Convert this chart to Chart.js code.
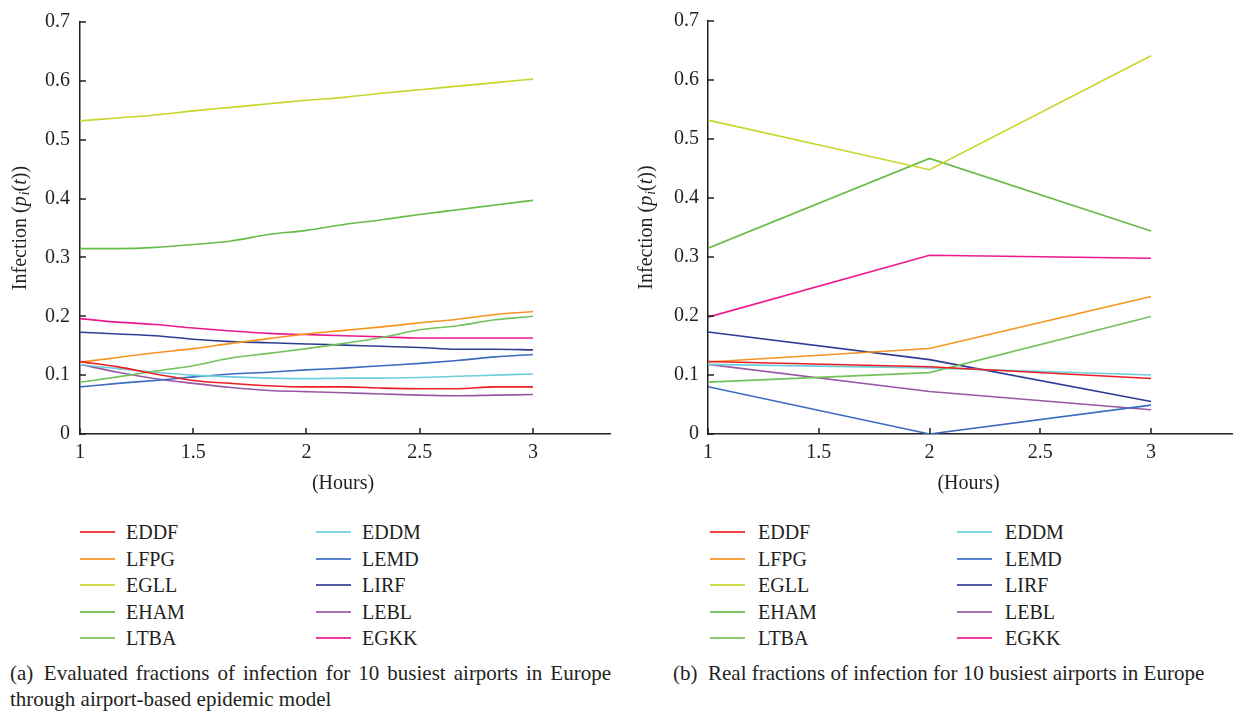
<!DOCTYPE html>
<html>
<head>
<meta charset="utf-8">
<script src="https://cdn.jsdelivr.net/npm/chart.js@4/dist/chart.umd.min.js"></script>
<style>
    body { margin: 0; background: #fff; font-family: 'Liberation Serif', 'DejaVu Serif', serif; color: #231f20; }
    #page { position: relative; width: 1233px; height: 712px; overflow: hidden; }
    .panel { position: absolute; top: 0; height: 500px; }
    .legend-item { position: absolute; height: 26px; font-size: 20px; line-height: 26px; white-space: nowrap; }
    .legend-item span.swatch { position: absolute; top: 12px; height: 2px; }
    .caption { position: absolute; font-size: 21px; line-height: 26px; }
</style>
</head>
<body>
<div id="page">
    <div class="panel" style="left:0;width:616px"><canvas id="modelChart" width="616" height="500"></canvas></div>
    <div class="panel" style="left:620px;width:613px"><canvas id="realChart" width="613" height="500"></canvas></div>
    <div id="modelLegend"></div>
    <div id="realLegend"></div>
    <div class="caption" style="left:10px;top:660px;width:601px;text-align:justify;text-align-last:left">(a)&ensp;Evaluated fractions of infection for 10 busiest airports in Europe through airport-based epidemic model</div>
    <div class="caption" style="left:673px;top:660px;white-space:nowrap">(b)&ensp;Real fractions of infection for 10 busiest airports in Europe</div>
</div>

<script>
// Airports and line colours
const airports = ['EDDF', 'LFPG', 'EGLL', 'EHAM', 'LTBA', 'EDDM', 'LEMD', 'LIRF', 'LEBL', 'EGKK'];
const airportColors = ['#ee1d23', '#f7931e', '#c8d62b', '#66bb46', '#74c25c', '#6dcfdc', '#3b6cc0', '#2e3d94', '#9a57a6', '#ec188e'];

// Axis ticks
const hourTicks = [1, 1.5, 2, 2.5, 3];
const infectionTicks = [0, 0.1, 0.2, 0.3, 0.4, 0.5, 0.6, 0.7];

// (a) evaluated by the airport-based epidemic model
const modelHours = [1, 1.167, 1.333, 1.5, 1.667, 1.833, 2, 2.167, 2.333, 2.5, 2.667, 2.833, 3];
const modelEDDF = [0.123, 0.114, 0.102, 0.091, 0.086, 0.082, 0.080, 0.080, 0.078, 0.077, 0.077, 0.080, 0.080];
const modelLFPG = [0.122, 0.130, 0.138, 0.145, 0.154, 0.162, 0.170, 0.176, 0.182, 0.189, 0.195, 0.203, 0.208];
const modelEGLL = [0.532, 0.537, 0.542, 0.549, 0.555, 0.561, 0.567, 0.572, 0.579, 0.585, 0.591, 0.597, 0.603];
const modelEHAM = [0.315, 0.315, 0.317, 0.322, 0.328, 0.339, 0.346, 0.356, 0.364, 0.373, 0.381, 0.389, 0.397];
const modelLTBA = [0.088, 0.097, 0.107, 0.116, 0.129, 0.137, 0.145, 0.154, 0.164, 0.177, 0.184, 0.194, 0.200];
const modelEDDM = [0.118, 0.111, 0.105, 0.100, 0.097, 0.095, 0.094, 0.095, 0.095, 0.096, 0.098, 0.100, 0.102];
const modelLEMD = [0.080, 0.086, 0.091, 0.097, 0.102, 0.105, 0.109, 0.112, 0.116, 0.120, 0.125, 0.131, 0.135];
const modelLIRF = [0.173, 0.170, 0.167, 0.161, 0.157, 0.155, 0.153, 0.151, 0.149, 0.147, 0.144, 0.144, 0.143];
const modelLEBL = [0.118, 0.105, 0.094, 0.086, 0.079, 0.074, 0.072, 0.070, 0.068, 0.066, 0.065, 0.066, 0.067];
const modelEGKK = [0.196, 0.190, 0.186, 0.180, 0.175, 0.171, 0.169, 0.167, 0.165, 0.163, 0.163, 0.163, 0.163];

// (b) real fractions
const realHours = [1, 2, 3];
const realEDDF = [0.123, 0.114, 0.094];
const realLFPG = [0.122, 0.145, 0.233];
const realEGLL = [0.532, 0.448, 0.641];
const realEHAM = [0.315, 0.467, 0.344];
const realLTBA = [0.088, 0.104, 0.199];
const realEDDM = [0.118, 0.112, 0.100];
const realLEMD = [0.080, 0.000, 0.049];
const realLIRF = [0.173, 0.126, 0.055];
const realLEBL = [0.118, 0.072, 0.041];
const realEGKK = [0.198, 0.303, 0.298];

const modelSeries = [modelEDDF, modelLFPG, modelEGLL, modelEHAM, modelLTBA, modelEDDM, modelLEMD, modelLIRF, modelLEBL, modelEGKK];
const realSeries = [realEDDF, realLFPG, realEGLL, realEHAM, realLTBA, realEDDM, realLEMD, realLIRF, realLEBL, realEGKK];

const axisColor = '#231f20';
const serif = "'Liberation Serif', 'DejaVu Serif', serif";

// Build datasets from x values and one series per airport
function buildDatasets(hours, series, smooth) {
    return series.map((values, i) => ({
        label: airports[i],
        data: values.map((v, j) => ({ x: hours[j], y: v })),
        borderColor: airportColors[i],
        borderWidth: 1.6,
        pointRadius: 0,
        cubicInterpolationMode: smooth ? 'monotone' : 'default',
        tension: 0,
        fill: false
    }));
}

// Inward tick marks and axis titles, y title with italic p_i(t)
const axisDecor = {
    id: 'axisDecor',
    afterDraw(chart, args, opts) {
        const { ctx, chartArea: a, scales: { x, y } } = chart;
        ctx.save();
        ctx.strokeStyle = axisColor;
        ctx.lineWidth = 1.5;
        ctx.beginPath();
        infectionTicks.forEach(v => {
            const py = Math.round(y.getPixelForValue(v));
            ctx.moveTo(a.left, py);
            ctx.lineTo(a.left + 6, py);
        });
        hourTicks.forEach(v => {
            const px = Math.round(x.getPixelForValue(v));
            ctx.moveTo(px, a.bottom);
            ctx.lineTo(px, a.bottom - 6);
        });
        ctx.stroke();

        ctx.fillStyle = axisColor;
        ctx.textBaseline = 'middle';
        ctx.textAlign = 'center';
        ctx.font = '20px ' + serif;
        ctx.fillText('(Hours)', (a.left + a.right) / 2 - 2, a.bottom + 50);

        // y title drawn piece by piece
        const parts = [
            { t: 'Infection (', f: '20px ' + serif, dy: 0 },
            { t: 'p', f: 'italic 20px ' + serif, dy: 0 },
            { t: 'i', f: 'italic 14px ' + serif, dy: 4 },
            { t: '(', f: '20px ' + serif, dy: 0 },
            { t: 't', f: 'italic 20px ' + serif, dy: 0 },
            { t: '))', f: '20px ' + serif, dy: 0 }
        ];
        ctx.textAlign = 'left';
        let total = 0;
        parts.forEach(p => { ctx.font = p.f; p.w = ctx.measureText(p.t).width; total += p.w + (p.t === 'p' ? 1 : 0); });
        ctx.translate(opts.titleX, (a.top + a.bottom) / 2);
        ctx.rotate(-Math.PI / 2);
        let cx = -total / 2;
        parts.forEach(p => {
            ctx.font = p.f;
            ctx.fillText(p.t, cx, p.dy);
            cx += p.w + (p.t === 'p' ? 1 : 0);
        });
        ctx.restore();
    }
};

function createChart(canvasId, datasets, axisWidth, xMax, rightPad, titleX, labelPad) {
    const ctx = document.getElementById(canvasId).getContext('2d');
    return new Chart(ctx, {
        type: 'line',
        data: { datasets: datasets },
        plugins: [axisDecor],
        options: {
            responsive: false,
            animation: false,
            layout: { padding: { left: 0, top: 17, right: rightPad, bottom: 0 } },
            plugins: {
                legend: { display: false },
                tooltip: { enabled: false },
                axisDecor: { titleX: titleX }
            },
            scales: {
                x: {
                    type: 'linear',
                    min: 1,
                    max: xMax,
                    afterBuildTicks: s => { s.ticks = hourTicks.map(v => ({ value: v })); },
                    afterFit: s => { s.height = 66; },
                    grid: { display: false, drawTicks: false },
                    border: { display: true, color: axisColor, width: 1.5 },
                    ticks: {
                        color: axisColor,
                        padding: 7,
                        maxRotation: 0,
                        font: { family: serif, size: 20 },
                        callback: v => String(v)
                    }
                },
                y: {
                    type: 'linear',
                    min: 0,
                    max: 0.7,
                    afterBuildTicks: s => { s.ticks = infectionTicks.map(v => ({ value: v })); },
                    afterFit: s => { s.width = axisWidth; },
                    grid: { display: false, drawTicks: false },
                    border: { display: true, color: axisColor, width: 1.5 },
                    ticks: {
                        color: axisColor,
                        padding: labelPad,
                        font: { family: serif, size: 20 },
                        callback: v => v === 0 ? '0' : v.toFixed(1)
                    }
                }
            }
        }
    });
}

// Legend in two columns of five, built from the airport list
function buildLegend(containerId, lineLeft, textLeft, colGap) {
    const box = document.getElementById(containerId);
    airports.forEach((name, i) => {
        const col = Math.floor(i / 5);
        const row = i % 5;
        const item = document.createElement('div');
        item.className = 'legend-item';
        item.style.left = (lineLeft + col * colGap) + 'px';
        item.style.top = (519 + row * 26.5) + 'px';
        const sw = document.createElement('span');
        sw.className = 'swatch';
        sw.style.left = '0px';
        sw.style.width = '35px';
        sw.style.background = airportColors[i];
        sw.style.opacity = 0.85;
        const label = document.createElement('span');
        label.textContent = name;
        label.style.position = 'absolute';
        label.style.left = (textLeft - lineLeft) + 'px';
        item.appendChild(sw);
        item.appendChild(label);
        box.appendChild(item);
    });
}

document.addEventListener('DOMContentLoaded', function () {
    createChart('modelChart', buildDatasets(modelHours, modelSeries, true), 80, 3.34, 6, 21, 10);
    createChart('realChart', buildDatasets(realHours, realSeries, false), 88, 3.37, 0, 27, 9);
    buildLegend('modelLegend', 80, 126, 236);
    buildLegend('realLegend', 710, 758, 247);
});
</script>
</body>
</html>
